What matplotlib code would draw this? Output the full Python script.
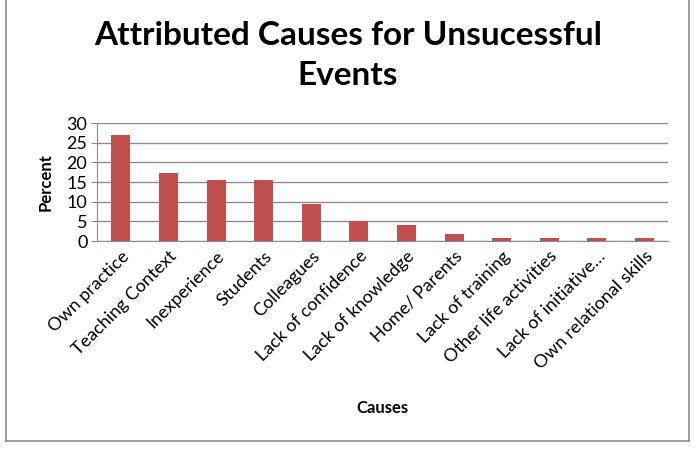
import matplotlib.pyplot as plt
from matplotlib.lines import Line2D

causes = ['Own practice', 'Teaching Context', 'Inexperience', 'Students', 'Colleagues',
          'Lack of confidence', 'Lack of knowledge', 'Home/ Parents', 'Lack of training',
          'Other life activities', 'Lack of initiative\u2026', 'Own relational skills']
percent = [27.0, 17.3, 15.6, 15.6, 9.5, 5.1, 4.2, 1.7, 0.85, 0.85, 0.85, 0.85]
yticks = [0, 5, 10, 15, 20, 25, 30]

plt.rcParams['font.family'] = ['Lato', 'DejaVu Sans']

fig = plt.figure(figsize=(6.99, 4.54), dpi=100)
ax = fig.add_axes([0.139, 0.469, 0.817, 0.26])

x = range(len(causes))
ax.bar(x, percent, width=0.4, color='#c0504d', zorder=3)

ax.set_ylim(0, 30)
ax.set_xlim(-0.5, len(causes) - 0.5)
ax.set_yticks(yticks)
ax.tick_params(axis='y', labelsize=13, length=4, color='#8c8c8c', pad=3)
ax.tick_params(axis='x', length=0, pad=5)
ax.grid(axis='y', color='#8c8c8c', linewidth=1, zorder=0)
ax.set_xticks(list(x))
ax.set_xticklabels(causes, rotation=45, ha='right', rotation_mode='anchor', fontsize=13)
for s in ['top', 'right']:
    ax.spines[s].set_visible(False)
ax.spines['left'].set_color('#8c8c8c')
ax.spines['bottom'].set_color('#8c8c8c')

ax.set_ylabel('Percent', fontsize=12, fontweight='bold', labelpad=9)
ax.set_xlabel('Causes', fontsize=12, fontweight='bold', labelpad=20)

fig.text(0.498, 0.877, 'Attributed Causes for Unsucessful\nEvents', ha='center', va='center',
         fontsize=24, fontweight='bold', linespacing=1.45)

# chart area border
for xs, ys in [([0.008, 0.008], [0.0285, 1.0]), ([0.986, 0.986], [0.0285, 1.0]),
               ([0.008, 0.986], [0.0285, 0.0285])]:
    fig.add_artist(Line2D(xs, ys, color='#8c8c8c', linewidth=1.2, transform=fig.transFigure))

fig.savefig('out.png', dpi=100)
